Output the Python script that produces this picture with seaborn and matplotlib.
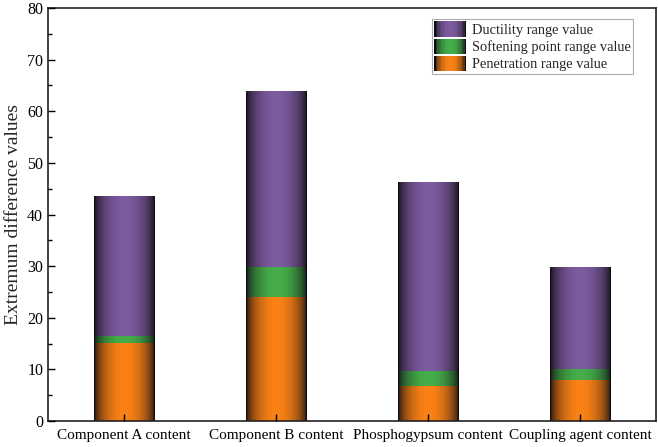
import numpy as np
import pandas as pd
import matplotlib
matplotlib.use('Agg')
import matplotlib.pyplot as plt
import seaborn as sns
from matplotlib.colors import to_rgb
from matplotlib.patches import Rectangle
from matplotlib.legend_handler import HandlerBase
from matplotlib.ticker import MultipleLocator

categories = ['Component A content', 'Component B content', 'Phosphogypsum content', 'Coupling agent content']
penetration = [15.2, 24.0, 6.8, 7.9]
softening = [1.3, 5.9, 2.9, 2.2]
ductility = [27.0, 34.0, 36.7, 19.7]

series_names = ['Penetration range value', 'Softening point range value', 'Ductility range value']
series_colors = ['#fb8216', '#45ae4a', '#7d5ba0']

sns.set_style('ticks')
plt.rcParams['font.family'] = ['Liberation Serif', 'DejaVu Serif']


def shade(base, n=64):
    # dark edges, bright middle, like a lit cylinder
    t = np.linspace(0, 1, n)
    f = np.sin(np.pi * t) ** 0.55
    c = np.array(to_rgb(base))
    dark = np.array([0.05, 0.04, 0.06])
    return dark[None, :] * (1 - f[:, None]) + c[None, :] * f[:, None]


class GradHandler(HandlerBase):
    def __init__(self, color):
        super().__init__()
        self.color = color

    def create_artists(self, legend, orig_handle, xdescent, ydescent, width, height, fontsize, trans):
        cols = shade(self.color, 24)
        w = width / len(cols)
        arts = []
        for i, c in enumerate(cols):
            arts.append(Rectangle((-xdescent + i * w, -ydescent), w * 1.05, height,
                                  facecolor=c, edgecolor='none', transform=trans))
        return arts


fig, ax = plt.subplots(figsize=(6.58, 4.47), dpi=100)

df = pd.DataFrame({'category': categories, 'Penetration range value': penetration,
                   'Softening point range value': softening, 'Ductility range value': ductility})
bottom = np.zeros(len(categories))
handles = []
for name, color in zip(series_names, series_colors):
    n_before = len(ax.patches)
    sns.barplot(data=df, x='category', y=name, color=color, width=0.4,
                bottom=bottom, ax=ax, saturation=1, edgecolor='none', label=name)
    new_patches = ax.patches[n_before:]
    img = shade(color)[None, :, :]
    for p in new_patches:
        x0, y0 = p.get_x(), p.get_y()
        w, h = p.get_width(), p.get_height()
        im = ax.imshow(img, extent=[x0, x0 + w, y0, y0 + h], aspect='auto',
                       interpolation='bilinear', zorder=p.get_zorder() + 0.1)
        im.set_clip_path(p)
    handles.append(Rectangle((0, 0), 1, 1, color=color))
    bottom = bottom + np.array(df[name])

ax.set_axisbelow(False)
ax.set_xlim(-0.5, 3.5)
ax.set_ylim(0, 80)
ax.set_xlabel('')
ax.set_ylabel('Extremum difference values', fontsize=14)
ax.yaxis.set_major_locator(MultipleLocator(10))
ax.yaxis.set_minor_locator(MultipleLocator(5))
ax.tick_params(axis='both', which='both', direction='in', top=False, right=False,
               width=1, colors='black')
ax.tick_params(axis='both', which='major', length=5)
ax.tick_params(axis='y', which='minor', length=3)
ax.tick_params(axis='y', labelsize=11.5)
ax.tick_params(axis='x', pad=6, labelsize=11)
for s in ax.spines.values():
    s.set_visible(True)
    s.set_linewidth(1.2)
    s.set_color('#222222')

hmap = {h: GradHandler(c) for h, c in zip(handles, series_colors)}
leg = ax.legend(handles[::-1], series_names[::-1], handler_map=hmap, loc='upper right',
                bbox_to_anchor=(0.962, 0.973), fontsize=10.4, frameon=True, fancybox=False,
                edgecolor='#999999', handlelength=2.2, handleheight=1.3, labelspacing=0.1,
                handletextpad=0.4, borderpad=0.15, borderaxespad=0)
leg.get_frame().set_linewidth(0.8)

plt.subplots_adjust(left=0.073, right=0.997, top=0.982, bottom=0.058)
fig.savefig('out.png', dpi=100)
